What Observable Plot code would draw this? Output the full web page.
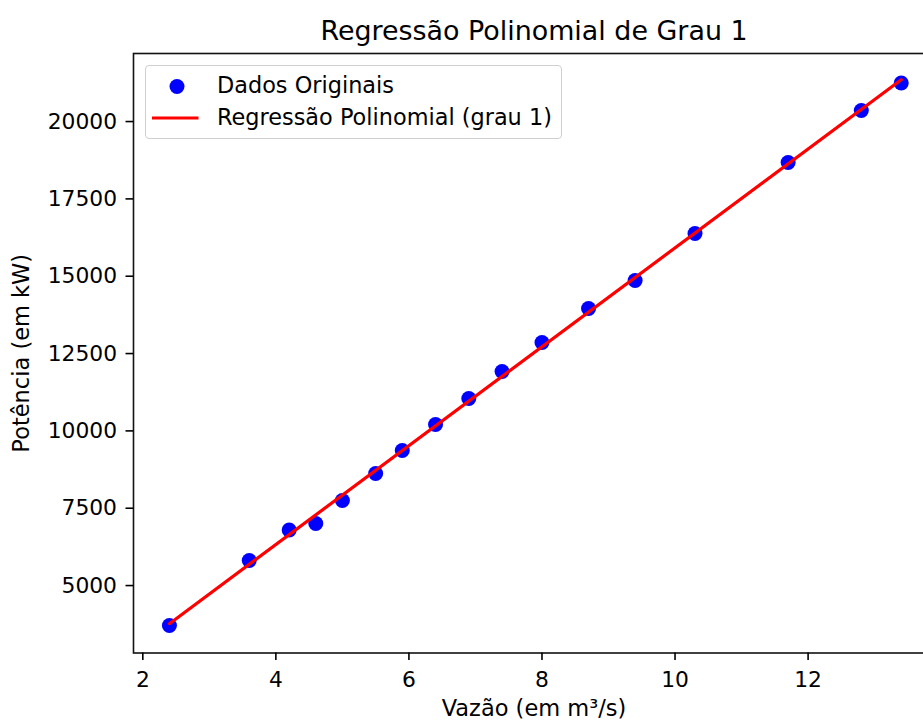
<!DOCTYPE html>
<html>
<head>
<meta charset="utf-8">
<script src="https://cdn.jsdelivr.net/npm/d3@7"></script>
<script src="https://cdn.jsdelivr.net/npm/@observablehq/plot@0.6"></script>
<style>
  html, body { margin: 0; padding: 0; background: #fff; overflow: hidden; }
  #wrap { position: relative; width: 923px; height: 720px; overflow: hidden; font-family: "DejaVu Sans", sans-serif; }
  #wrap > svg { max-width: none !important; width: 934px; height: 720px; display: block; }
  #legend { position: absolute; left: 145px; top: 65px; width: 417px; height: 74px; box-sizing: border-box;
            border: 1.5px solid #cfcfcf; border-radius: 4px; background: rgba(255,255,255,0.8); }
  #legend svg { position: absolute; left: 0; top: 0; }
  #legend .lbl { position: absolute; left: 71px; font-size: 22.4px; color: #000; white-space: nowrap; line-height: 1; }
</style>
</head>
<body>
<div id="wrap"></div>
<script>
// Data
const vazao    = [2.4, 3.6, 4.2, 4.6, 5.0, 5.5, 5.9, 6.4, 6.9, 7.4, 8.0, 8.7, 9.4, 10.3, 11.7, 12.8, 13.4];
const potencia = [3709, 5810, 6796, 7006, 7750, 8623, 9366, 10207, 11047, 11920, 12858, 13957, 14862, 16381, 18676, 20357, 21246];
const xTicks = [2, 4, 6, 8, 10, 12];
const yTicks = [5000, 7500, 10000, 12500, 15000, 17500, 20000];
const title = "Regressão Polinomial de Grau 1";
const xLabel = "Vazão (em m³/s)";
const yLabel = "Potência (em kW)";
const legendLabels = ["Dados Originais", "Regressão Polinomial (grau 1)"];

const data = vazao.map((v, i) => ({x: v, y: potencia[i]}));

const FS = 21.8;
const LFS = 22.5;
const chart = Plot.plot({
  width: 934,
  height: 720,
  marginLeft: 133,
  marginRight: 0,
  marginTop: 53,
  marginBottom: 67.5,
  style: {fontFamily: "DejaVu Sans, sans-serif", fontSize: FS + "px", color: "#000", background: "#fff", maxWidth: "none"},
  x: {domain: [1.86, 13.9]},
  y: {domain: [2820, 22200]},
  marks: [
    Plot.dot(data, {x: "x", y: "y", r: 7.5, fill: "#0000ff", stroke: "none"}),
    Plot.linearRegressionY(data, {x: "x", y: "y", stroke: "#ff0000", strokeWidth: 3.2, ci: 0}),
    Plot.frame({stroke: "#111", strokeWidth: 1.6}),
    Plot.axisX({ticks: xTicks, tickSize: 7.5, tickPadding: 11, strokeWidth: 1.6, fontSize: FS, label: null, tickFormat: d => String(d)}),
    Plot.axisY({ticks: yTicks, tickSize: 7.5, tickPadding: 9, strokeWidth: 1.6, fontSize: FS, label: null, tickFormat: d => String(d)}),
    Plot.text([title], {frameAnchor: "top", textAnchor: "middle", dy: -13.5, lineAnchor: "bottom", fontSize: 26.9, fill: "#000"}),
    Plot.text([xLabel], {frameAnchor: "bottom", textAnchor: "middle", dy: 63, lineAnchor: "bottom", fontSize: LFS, fill: "#000"}),
    Plot.text([yLabel], {frameAnchor: "left", textAnchor: "middle", dx: -112, rotate: -90, lineAnchor: "middle", fontSize: LFS, fill: "#000"})
  ]
});

const wrap = document.getElementById("wrap");
wrap.appendChild(chart);

// Legend (HTML overlay)
const legend = document.createElement("div");
legend.id = "legend";
legend.innerHTML = `
  <svg width="417" height="74">
    <circle cx="31" cy="20.5" r="7.5" fill="#0000ff"></circle>
    <line x1="6" x2="52.5" y1="52" y2="52" stroke="#ff0000" stroke-width="3.2"></line>
  </svg>
  <div class="lbl" style="top:8px">${legendLabels[0]}</div>
  <div class="lbl" style="top:40px">${legendLabels[1]}</div>`;
wrap.appendChild(legend);
</script>
</body>
</html>
